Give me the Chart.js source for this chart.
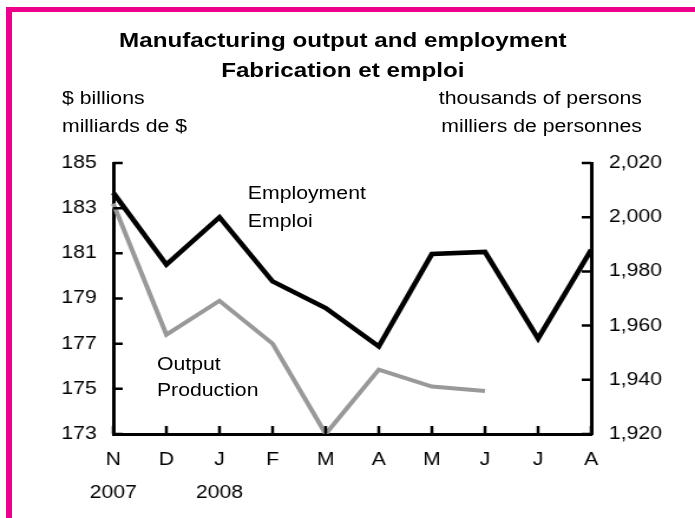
<!DOCTYPE html>
<html>
<head>
<meta charset="utf-8">
<script src="https://cdn.jsdelivr.net/npm/chart.js@4.4.0/dist/chart.umd.min.js"></script>
<style>
  body { margin: 0; background: #fff; }
  #page { position: relative; width: 695px; height: 518px; overflow: hidden; font-family: "Liberation Sans", Arial, sans-serif; color: #000; }
  #frame { position: absolute; left: 6px; top: 7px; width: 700px; height: 520px; border-top: 5px solid #ec008c; border-left: 6px solid #ec008c; }
  #wrap { position: absolute; left: 0; top: 0; width: 589px; height: 518px; transform: scaleX(1.18); transform-origin: 0 0; }
  .txt { position: absolute; white-space: nowrap; }
  #title { left: 0; width: 581px; top: 25px; text-align: center; font-weight: bold; font-size: 20.5px; line-height: 30px; }
  #unitLeft { left: 52.5px; top: 84px; font-size: 18px; line-height: 28px; }
  #unitRight { left: 0; width: 544px; top: 84px; text-align: right; font-size: 18px; line-height: 28px; }
  #empLabel { left: 210px; top: 179px; font-size: 18px; line-height: 28px; }
  #outLabel { left: 133px; top: 351px; font-size: 18px; line-height: 26px; }
</style>
</head>
<body>
<div id="page">
  <div id="frame"></div>
  <div id="wrap">
    <canvas id="chart"></canvas>
    <div class="txt" id="title">Manufacturing output and employment<br>Fabrication et emploi</div>
    <div class="txt" id="unitLeft">$ billions<br>milliards de $</div>
    <div class="txt" id="unitRight">thousands of persons<br>milliers de personnes</div>
    <div class="txt" id="empLabel">Employment<br>Emploi</div>
    <div class="txt" id="outLabel">Output<br>Production</div>
  </div>
</div>
<script>
// months Nov 2007 - Aug 2008
const months = ["N", "D", "J", "F", "M", "A", "M", "J", "J", "A"];
const years = ["2007", "", "2008", "", "", "", "", "", "", ""];

// output, $ billions (left axis) - ends in June
const outputValues = [183.2, 177.4, 178.9, 177.0, 173.0, 175.85, 175.1, 174.9];

// employment, thousands of persons (right axis)
const employmentValues = [2009, 1982.5, 2000, 1976.3, 1966.5, 1952.3, 1986.4, 1987.2, 1955.2, 1988];

const leftMin = 173, leftMax = 185, leftStep = 2;
const rightMin = 1920, rightMax = 2020, rightStep = 20;

const tickFont = { family: "'Liberation Sans', Arial, sans-serif", size: 18 };

// short tick marks pointing into the plot
const innerTicks = {
  id: "innerTicks",
  afterDraw(chart) {
    const ctx = chart.ctx;
    const area = chart.chartArea;
    const len = 8;
    ctx.save();
    ctx.strokeStyle = "#000";
    ctx.lineWidth = 2.5;
    ctx.beginPath();
    chart.scales.y.ticks.forEach((t) => {
      const py = chart.scales.y.getPixelForValue(t.value);
      ctx.moveTo(area.left, py);
      ctx.lineTo(area.left + len, py);
    });
    chart.scales.y1.ticks.forEach((t) => {
      const py = chart.scales.y1.getPixelForValue(t.value);
      ctx.moveTo(area.right, py);
      ctx.lineTo(area.right - len, py);
    });
    months.forEach((m, i) => {
      const px = chart.scales.x.getPixelForValue(i);
      ctx.moveTo(px, area.bottom);
      ctx.lineTo(px, area.bottom - len);
    });
    ctx.stroke();
    ctx.restore();
  },
};

const ctx = document.getElementById("chart").getContext("2d");
new Chart(ctx, {
  type: "line",
  data: {
    labels: months.map((m, i) => [m, years[i]]),
    datasets: [
      {
        label: "Output",
        data: outputValues,
        yAxisID: "y",
        borderColor: "#999999",
        borderWidth: 4,
        pointRadius: 0,
        tension: 0,
      },
      {
        label: "Employment",
        data: employmentValues,
        yAxisID: "y1",
        borderColor: "#000000",
        borderWidth: 4.5,
        pointRadius: 0,
        tension: 0,
      },
    ],
  },
  options: {
    responsive: true,
    maintainAspectRatio: false,
    animation: false,
    layout: { padding: { top: 163, left: 0, right: 0, bottom: 0 } },
    plugins: {
      legend: { display: false },
      title: { display: false },
      tooltip: { enabled: false },
    },
    scales: {
      x: {
        offset: false,
        grid: { display: true, drawOnChartArea: false, drawTicks: false },
        border: { display: true, color: "#000", width: 3 },
        ticks: {
          color: "#000",
          font: { ...tickFont, lineHeight: 1.8 },
          padding: 10,
          maxRotation: 0,
          autoSkip: false,
        },
        afterFit(scale) { scale.height = 84; },
      },
      y: {
        position: "left",
        min: leftMin,
        max: leftMax,
        grid: { display: true, drawOnChartArea: false, drawTicks: false },
        border: { display: true, color: "#000", width: 3 },
        ticks: { color: "#000", font: tickFont, stepSize: leftStep, padding: 14 },
        afterFit(scale) { scale.width = 96; },
      },
      y1: {
        position: "right",
        min: rightMin,
        max: rightMax,
        grid: { display: true, drawOnChartArea: false, drawTicks: false },
        border: { display: true, color: "#000", width: 3 },
        ticks: {
          color: "#000",
          font: tickFont,
          stepSize: rightStep,
          padding: 15,
          callback: (v) => v.toLocaleString("en-US"),
        },
        afterFit(scale) { scale.width = 88; },
      },
    },
  },
  plugins: [innerTicks],
});
</script>
</body>
</html>
